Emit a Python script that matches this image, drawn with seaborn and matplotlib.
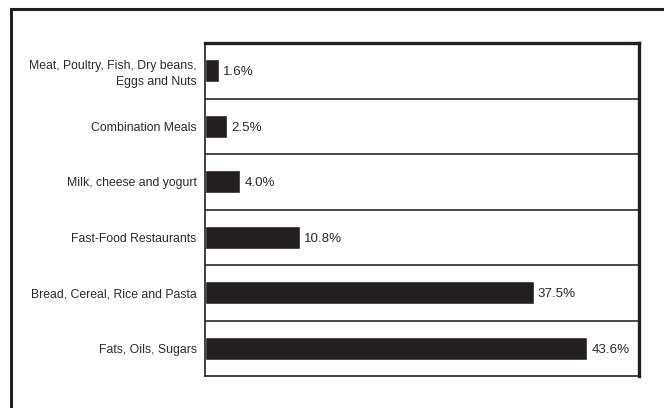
import matplotlib
matplotlib.use("Agg")
import matplotlib.pyplot as plt
import seaborn as sns
import pandas as pd
from matplotlib.patches import Rectangle

categories = [
    "Meat, Poultry, Fish, Dry beans,\nEggs and Nuts",
    "Combination Meals",
    "Milk, cheese and yogurt",
    "Fast-Food Restaurants",
    "Bread, Cereal, Rice and Pasta",
    "Fats, Oils, Sugars",
]
values = [1.6, 2.5, 4.0, 10.8, 37.5, 43.6]
value_labels = ["1.6%", "2.5%", "4.0%", "10.8%", "37.5%", "43.6%"]

df = pd.DataFrame({"category": categories, "value": values})

sns.set_theme(style="white")
plt.rcParams["font.family"] = ["Liberation Sans", "DejaVu Sans"]

ink = "#231f20"
fig = plt.figure(figsize=(6.64, 4.08), dpi=100)
W, H = 664, 408
ax = fig.add_axes([205 / W, 1 - 376 / H, (639 - 205) / W, (376 - 43) / H])

sns.barplot(data=df, y="category", x="value", orient="h", color=ink,
            width=0.42, ax=ax, saturation=1, order=categories)

ax.set_xlim(0, 49.5)
ax.set_ylim(5.5, -0.5)
ax.set_xlabel("")
ax.set_ylabel("")
ax.set_xticks([])
ax.tick_params(axis="y", length=0, pad=6, labelsize=8.8, labelcolor="#2a2a2a")
for lab in ax.get_yticklabels():
    lab.set_multialignment("right")
    lab.set_linespacing(1.4)

for y in [0.5, 1.5, 2.5, 3.5, 4.5]:
    ax.axhline(y, color="#3a3a3a", lw=1.3, zorder=0)

for i, (v, t) in enumerate(zip(values, value_labels)):
    ax.annotate(t, (v, i), xytext=(3, -1), textcoords="offset points",
                va="center", ha="left", fontsize=9.6, color="#2a2a2a")

for side in ["left", "bottom", "top", "right"]:
    ax.spines[side].set_visible(True)
    ax.spines[side].set_color(ink)
ax.spines["left"].set_linewidth(1.2)
ax.spines["bottom"].set_linewidth(1.2)
ax.spines["top"].set_linewidth(2.4)
ax.spines["right"].set_linewidth(2.4)

# outer frame (extends beyond right and bottom edges)
fig.patches.append(Rectangle((11 / W, -0.1), 1.2, 1 - 8.5 / H + 0.1,
                             transform=fig.transFigure, fill=False,
                             edgecolor=ink, lw=2.2, zorder=0))

fig.savefig("out.png", dpi=100, facecolor="white")
